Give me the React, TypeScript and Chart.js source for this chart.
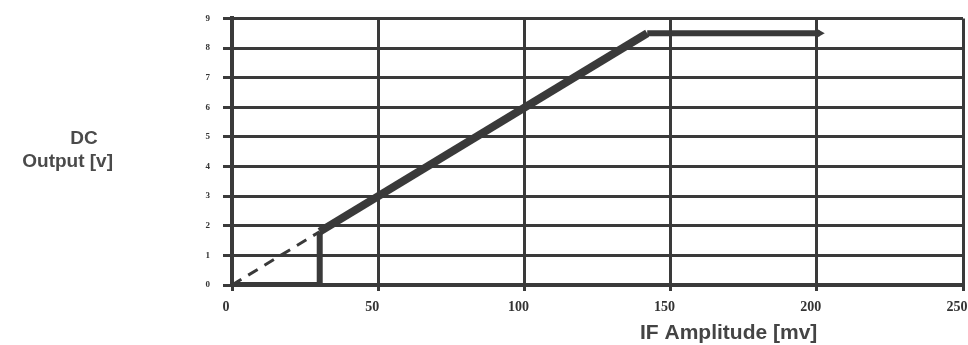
import React, { useEffect, useRef } from "react";
import { Chart, registerables } from "chart.js";

Chart.register(...registerables);

const xTicks = [0, 50, 100, 150, 200, 250];
const yTicks = [0, 1, 2, 3, 4, 5, 6, 7, 8, 9];
const solidX = [0, 30, 30, 142, 201];
const solidY = [0, 0, 1.8, 8.5, 8.5];
const dashedX = [0, 30];
const dashedY = [0, 1.8];
const xTitle = "IF Amplitude [mv]";
const yTitle = ["DC", "Output [v]"];

const INK = "#3a3a3a";

const titlesPlugin = {
  id: "titles",
  afterDraw(chart: any) {
    const ctx = chart.ctx;
    ctx.save();
    ctx.fillStyle = "#444";
    ctx.textBaseline = "alphabetic";
    ctx.textAlign = "left";
    ctx.font = "bold 21px 'Liberation Sans', Arial, sans-serif";
    ctx.fillText(xTitle, 640, 339);
    ctx.fillStyle = "#4a4a4a";
    ctx.font = "bold 19px 'Liberation Sans', Arial, sans-serif";
    ctx.textAlign = "center";
    ctx.fillText(yTitle[0], 84, 144);
    ctx.textAlign = "right";
    ctx.fillText(yTitle[1], 113, 167);
    ctx.restore();
  },
};

export default function App() {
  const ref = useRef<HTMLCanvasElement>(null);
  useEffect(() => {
    document.body.style.margin = "0";
    const solid = solidX.map((x, i) => ({ x, y: solidY[i] }));
    const dashed = dashedX.map((x, i) => ({ x, y: dashedY[i] }));
    const chart = new Chart(ref.current!, {
      type: "line",
      data: {
        datasets: [
          {
            data: dashed,
            borderColor: INK,
            borderWidth: 3,
            borderDash: [11, 8],
            pointRadius: 0,
            fill: false,
          },
          {
            data: solid,
            borderColor: INK,
            backgroundColor: INK,
            borderWidth: 7,
            borderJoinStyle: "miter",
            segment: {
              borderWidth: (c: any) => (c.p0DataIndex === 2 ? 8 : c.p0DataIndex === 3 ? 6 : 6),
            },
            pointRadius: solid.map((_, i) => (i === solid.length - 1 ? 5 : 0)),
            pointStyle: "triangle",
            rotation: 90,
            pointBorderWidth: 0,
            fill: false,
          },
        ],
      },
      plugins: [titlesPlugin],
      options: {
        animation: false,
        responsive: false,
        maintainAspectRatio: false,
        layout: { padding: { left: 0, top: 14, right: 1, bottom: 0 } },
        plugins: { legend: { display: false }, tooltip: { enabled: false } },
        scales: {
          x: {
            type: "linear",
            min: 0,
            max: 250,
            afterBuildTicks: (s: any) => {
              s.ticks = xTicks.map((v) => ({ value: v }));
            },
            afterFit: (s: any) => {
              s.height = 60;
              s.paddingRight = 0;
              s.paddingLeft = 0;
            },
            grid: { color: INK, lineWidth: 3, tickLength: 6, tickColor: INK },
            border: { color: INK, width: 4 },
            ticks: {
              color: "#333",
              padding: 8,
              labelOffset: -6,
              maxRotation: 0,
              font: { family: "'Liberation Serif', serif", size: 14, weight: "bold" },
            },
          },
          y: {
            type: "linear",
            min: 0,
            max: 9,
            afterBuildTicks: (s: any) => {
              s.ticks = yTicks.map((v) => ({ value: v }));
            },
            afterFit: (s: any) => {
              s.width = 232;
            },
            grid: { color: INK, lineWidth: 3, tickLength: 9, tickColor: INK },
            border: { color: INK, width: 4 },
            ticks: {
              color: "#333",
              padding: 13,
              font: { family: "'Liberation Serif', serif", size: 9, weight: "bold" },
            },
          },
        },
      },
    });
    return () => chart.destroy();
  }, []);
  return (
    <div style={{ width: 968, height: 345, overflow: "hidden", background: "#fff" }}>
      <canvas ref={ref} width={968} height={345} />
    </div>
  );
}
